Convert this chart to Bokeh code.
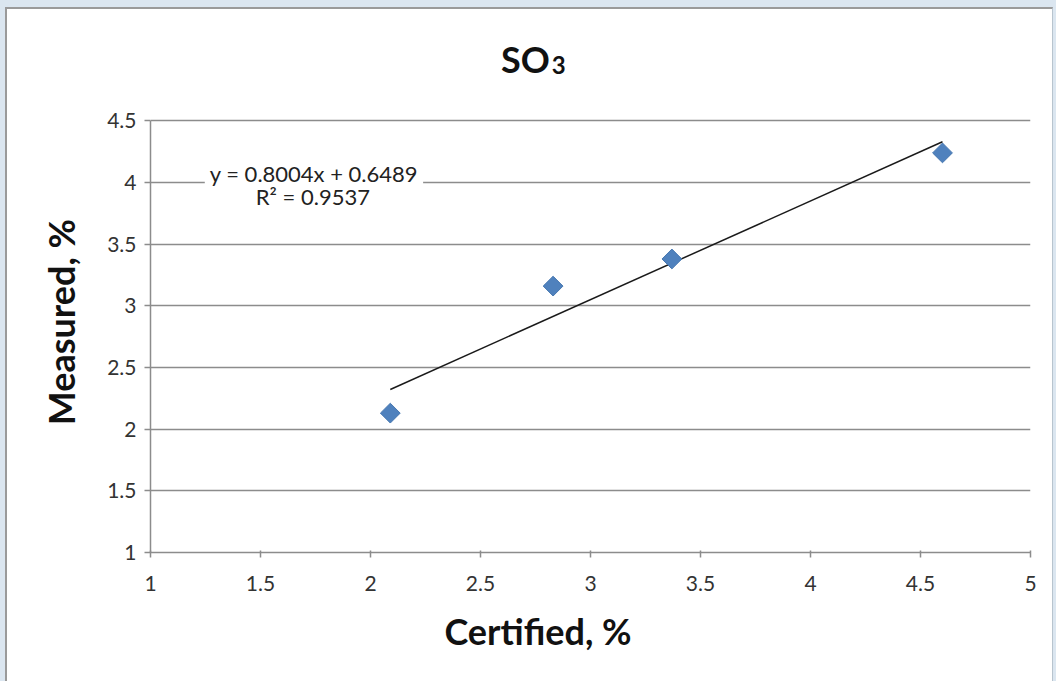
import numpy as np
from bokeh.plotting import figure
from bokeh.models import Label, Range1d, FixedTicker, ColumnDataSource
from bokeh.embed import file_html
from bokeh.resources import INLINE

# data
certified = [2.09, 2.83, 3.37, 4.60]
measured = [2.13, 3.16, 3.38, 4.24]
slope = 0.8004
intercept = 0.6489
r2 = 0.9537
x_ticks = [1, 1.5, 2, 2.5, 3, 3.5, 4, 4.5, 5]
y_ticks = [1, 1.5, 2, 2.5, 3, 3.5, 4, 4.5]

FONT = "Lato"
GRAY = "#8c8c8c"
NB = "\u00a0"

# frame top extended upward so the title can sit inside it (y axis drawn only 1..4.5)
Y_TOP = 4.5 + 90 / 122.86

p = figure(width=1045, height=672, output_backend="svg", toolbar_location=None,
           x_range=Range1d(1, 5), y_range=Range1d(1, Y_TOP),
           min_border_left=143, min_border_right=25, min_border_top=21, min_border_bottom=131)
p.styles = {"margin-left": "5px", "margin-top": "7px", "background-color": "white",
            "border-left": "2px solid #9a9a9a", "border-top": "2px solid #9a9a9a",
            "border-right": "1px solid #b8c4ce", "box-sizing": "content-box"}
p.background_fill_color = None
p.border_fill_color = None
p.outline_line_color = None

for ax in (p.xaxis[0], p.yaxis[0]):
    ax.axis_line_color = GRAY
    ax.axis_line_width = 1.5
    ax.major_tick_line_color = GRAY
    ax.major_tick_line_width = 1.5
    ax.minor_tick_line_color = None
    ax.major_label_text_font = FONT
    ax.major_label_text_font_size = "21px"
    ax.major_label_text_color = "#333333"
    ax.axis_label_text_font = FONT
    ax.axis_label_text_font_style = "bold"
    ax.axis_label_text_font_size = "36px"
    ax.axis_label_text_color = "#111111"

p.xaxis.ticker = FixedTicker(ticks=x_ticks)
p.yaxis.ticker = FixedTicker(ticks=y_ticks)
p.yaxis.bounds = (1, 4.5)
p.xaxis.major_label_overrides = {t: f"{t:g}" for t in x_ticks}
p.yaxis.major_label_overrides = {t: f"{t:g}" for t in y_ticks}
p.xaxis.major_tick_out = 5
p.xaxis.major_tick_in = 2
p.yaxis.major_tick_out = 6
p.yaxis.major_tick_in = 0
p.xaxis.major_label_standoff = 18
p.yaxis.major_label_standoff = 8
p.xaxis.axis_label = "Certified, %" + NB * 12
p.yaxis.axis_label = "Measured, %" + NB * 7
p.xaxis.axis_label_standoff = 15
p.yaxis.axis_label_standoff = 21

p.xgrid.grid_line_color = None
p.ygrid.grid_line_color = GRAY
p.ygrid.grid_line_width = 1.5

# trendline
x0, x1 = min(certified), max(certified)
p.line([x0, x1], [slope * x0 + intercept, slope * x1 + intercept],
       line_color="#1a1a1a", line_width=1.5)

# points
src = ColumnDataSource(dict(x=certified, y=measured))
p.scatter("x", "y", source=src, marker="square", size=14, angle=np.pi / 4,
          fill_color="#4f81bd", line_color="#4677b0", line_width=1)

# equation labels
p.add_layout(Label(x=1.743, y=4.075, text=f"y = {slope}x + {intercept}",
                   text_align="center", text_baseline="middle",
                   text_font=FONT, text_font_size="22px", text_color="#222222",
                   background_fill_color="white", padding=5))
p.add_layout(Label(x=1.738, y=3.885, text=f"R² = {r2}",
                   text_align="center", text_baseline="middle",
                   text_font=FONT, text_font_size="22px", text_color="#222222"))

# title "SO3"
p.add_layout(Label(x=2.815, y=5.005, text="SO", text_align="right", text_baseline="alphabetic",
                   text_font=FONT, text_font_style="bold", text_font_size="36px", text_color="#111111"))
p.add_layout(Label(x=2.824, y=4.956, text="3", text_align="left", text_baseline="alphabetic",
                   text_font=FONT, text_font_style="bold", text_font_size="24px", text_color="#111111"))

html = file_html(p, INLINE)
html = html.replace("<head>", "<head><style>html,body{margin:0;padding:0;background:#dbe6f0;overflow:hidden;}</style>", 1)
open("out.html", "w").write(html)
